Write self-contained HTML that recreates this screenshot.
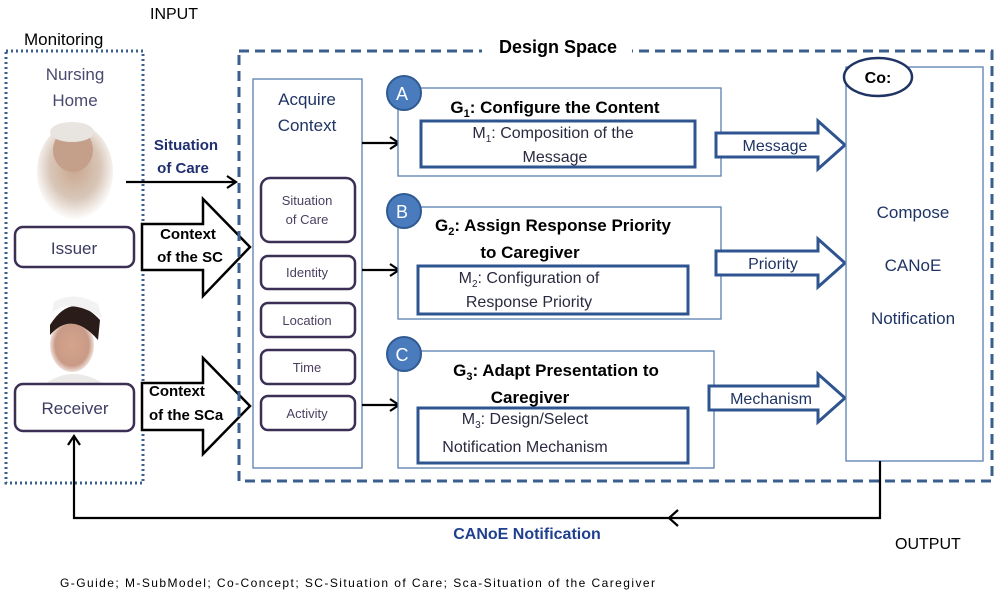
<!DOCTYPE html>
<html><head><meta charset="utf-8"><style>
body{margin:0;background:#fff;}
svg{display:block;font-family:"Liberation Sans",sans-serif;}
</style></head><body>
<svg width="1000" height="599" viewBox="0 0 1000 599" xmlns="http://www.w3.org/2000/svg">
<defs>
<marker id="ah" markerWidth="12" markerHeight="14" refX="10" refY="7" orient="auto" markerUnits="userSpaceOnUse">
<path d="M1,1 L10,7 L1,13" fill="none" stroke="#000" stroke-width="2.2"/></marker>
<radialGradient id="face1" cx="50%" cy="45%" r="55%"><stop offset="0" stop-color="#c9a58c"/><stop offset="0.6" stop-color="#d8c6b8"/><stop offset="1" stop-color="#fff"/></radialGradient>
<radialGradient id="face2" cx="50%" cy="50%" r="55%"><stop offset="0" stop-color="#d7a48c"/><stop offset="0.7" stop-color="#c89a86"/><stop offset="1" stop-color="#fff"/></radialGradient>
</defs>
<text x="150" y="19" font-size="16" fill="#000">INPUT</text>
<text x="24" y="45" font-size="17" fill="#000">Monitoring</text>
<rect x="6" y="51" width="137" height="432" fill="none" stroke="#3a5f8f" stroke-width="3" stroke-dasharray="2,3"/>
<text x="75" y="80" font-size="17" fill="#4a4a70" text-anchor="middle">Nursing</text>
<text x="75" y="106" font-size="17" fill="#4a4a70" text-anchor="middle">Home</text>
<ellipse cx="75" cy="172" rx="38" ry="48" fill="url(#face1)"/>
<ellipse cx="73" cy="150" rx="20" ry="22" fill="#c4a08a"/>
<ellipse cx="72" cy="132" rx="22" ry="10" fill="#e8e4e0"/>
<rect x="38" y="300" width="74" height="90" fill="#fff"/>
<ellipse cx="72" cy="345" rx="22" ry="27" fill="url(#face2)"/>
<path d="M50 325 Q72 290 100 320 L98 340 Q72 310 50 335Z" fill="#2a1c18"/>
<path d="M52 312 Q72 298 102 318 L98 304 Q74 290 54 302Z" fill="#f2f2f2"/>
<path d="M40 388 Q72 360 110 388Z" fill="#eceae8"/>
<rect x="15" y="227" width="119" height="40" rx="8" fill="#fff" stroke="#3b2f55" stroke-width="2.5"/>
<text x="74" y="254" font-size="17" fill="#3b3b60" text-anchor="middle">Issuer</text>
<rect x="15" y="384" width="119" height="47" rx="8" fill="#fff" stroke="#3b2f55" stroke-width="2.5"/>
<text x="75" y="414" font-size="17" fill="#3b3b60" text-anchor="middle">Receiver</text>
<text x="186" y="150" font-size="15" font-weight="bold" fill="#1f2f6f" text-anchor="middle">Situation</text>
<text x="183" y="173" font-size="15" font-weight="bold" fill="#1f2f6f" text-anchor="middle">of Care</text>
<line x1="126" y1="182" x2="236" y2="182" stroke="#000" stroke-width="2.2" marker-end="url(#ah)"/>
<path d="M142 224 L203 224 L203 199 L250 247 L203 296 L203 270 L142 270Z" fill="#fff" stroke="#000" stroke-width="2.5"/>
<text x="188" y="239" font-size="15" font-weight="bold" text-anchor="middle">Context</text>
<text x="190" y="262" font-size="15" font-weight="bold" text-anchor="middle">of the SC</text>
<path d="M142 383 L203 383 L203 358 L250 406 L203 454 L203 430 L142 430Z" fill="#fff" stroke="#000" stroke-width="2.5"/>
<text x="149" y="396" font-size="15" font-weight="bold">Context</text>
<text x="149" y="420" font-size="15" font-weight="bold">of the SCa</text>
<rect x="239" y="51" width="753" height="430" fill="none" stroke="#3a5f8f" stroke-width="3" stroke-dasharray="10,6"/>
<rect x="482" y="34" width="150" height="24" fill="#fff"/>
<text x="558" y="53" font-size="18" font-weight="bold" text-anchor="middle">Design Space</text>
<rect x="253" y="79" width="109" height="389" fill="#fff" stroke="#5b7fb0" stroke-width="1.3"/>
<text x="307" y="105" font-size="17" fill="#1f3464" text-anchor="middle">Acquire</text>
<text x="307" y="131" font-size="17" fill="#1f3464" text-anchor="middle">Context</text>
<g stroke="#3b2f55" stroke-width="2.5" fill="#fff">
<rect x="261" y="178" width="94" height="64" rx="9"/>
<rect x="261" y="256" width="94" height="33" rx="7"/>
<rect x="261" y="303" width="94" height="34" rx="7"/>
<rect x="261" y="350" width="94" height="34" rx="7"/>
<rect x="261" y="396" width="94" height="34" rx="7"/>
</g>
<g font-size="13" fill="#4a3f60" text-anchor="middle">
<text x="307" y="205">Situation</text><text x="307" y="224">of Care</text>
<text x="307" y="277">Identity</text>
<text x="307" y="325">Location</text>
<text x="307" y="372">Time</text>
<text x="307" y="418">Activity</text>
</g>
<g stroke="#000" stroke-width="2.2" marker-end="url(#ah)">
<line x1="362" y1="143" x2="399" y2="143"/>
<line x1="362" y1="270" x2="399" y2="270"/>
<line x1="362" y1="405" x2="399" y2="405"/>
</g>
<g fill="#fff" stroke="#5b7fb0" stroke-width="1.3">
<rect x="398" y="88" width="323" height="88"/>
<rect x="398" y="207" width="323" height="112"/>
<rect x="398" y="351" width="316" height="117"/>
</g>
<g fill="#fff" stroke="#2f5590" stroke-width="3">
<rect x="421" y="121" width="274" height="46"/>
<rect x="418" y="266" width="270" height="48"/>
<rect x="418" y="408" width="270" height="55"/>
</g>
<g fill="#4a7bbd" stroke="#2f5a93" stroke-width="2">
<circle cx="404" cy="93" r="17"/><circle cx="404" cy="211" r="17"/><circle cx="404" cy="354" r="17"/>
</g>
<g fill="#fff" font-size="18" text-anchor="middle">
<text x="402" y="100">A</text><text x="402" y="218">B</text><text x="402" y="361">C</text>
</g>
<g font-size="17" font-weight="bold" text-anchor="middle">
<text x="555" y="113">G<tspan font-size="11" dy="4">1</tspan><tspan dy="-4">: Configure the Content</tspan></text>
<text x="553" y="231">G<tspan font-size="11" dy="4">2</tspan><tspan dy="-4">: Assign Response Priority</tspan></text>
<text x="530" y="258">to Caregiver</text>
<text x="556" y="376">G<tspan font-size="11" dy="4">3</tspan><tspan dy="-4">: Adapt Presentation to</tspan></text>
<text x="530" y="403">Caregiver</text>
</g>
<g font-size="16" fill="#2a2a40" text-anchor="middle">
<text x="553" y="138">M<tspan font-size="10" dy="4">1</tspan><tspan dy="-4">: Composition of the</tspan></text>
<text x="555" y="162">Message</text>
<text x="529" y="283">M<tspan font-size="10" dy="4">2</tspan><tspan dy="-4">: Configuration of</tspan></text>
<text x="529" y="307">Response Priority</text>
<text x="525" y="424">M<tspan font-size="10" dy="4">3</tspan><tspan dy="-4">:  Design/Select</tspan></text>
<text x="525" y="452">Notification Mechanism</text>
</g>
<g fill="#fff" stroke="#2f5590" stroke-width="3">
<path d="M716 133 L818 133 L818 121 L845 145 L818 169 L818 157 L716 157Z"/>
<path d="M716 251 L818 251 L818 239 L845 263 L818 287 L818 275 L716 275Z"/>
<path d="M709 386 L818 386 L818 374 L845 398 L818 422 L818 410 L709 410Z"/>
</g>
<g font-size="16" fill="#1f3464" text-anchor="middle">
<text x="775" y="151">Message</text>
<text x="773" y="269">Priority</text>
<text x="771" y="404">Mechanism</text>
</g>
<rect x="846" y="67" width="137" height="394" fill="#fff" stroke="#5b7fb0" stroke-width="1.3"/>
<ellipse cx="878" cy="77" rx="34" ry="19" fill="#fff" stroke="#1f3464" stroke-width="2.5"/>
<text x="878" y="83" font-size="16" font-weight="bold" text-anchor="middle">Co:</text>
<g font-size="17" fill="#1f3464" text-anchor="middle">
<text x="913" y="218">Compose</text>
<text x="913" y="271">CANoE</text>
<text x="913" y="324">Notification</text>
</g>
<path d="M880 461 L880 518 L74 518 L74 436" fill="none" stroke="#000" stroke-width="2.2" marker-end="url(#ah)"/>
<path d="M678 510 L669 518 L678 526" fill="none" stroke="#000" stroke-width="2.2"/>
<text x="527" y="539" font-size="16" font-weight="bold" fill="#1f3f8f" text-anchor="middle">CANoE Notification</text>
<text x="895" y="549" font-size="16">OUTPUT</text>
<text x="60" y="587" font-size="12" textLength="595" lengthAdjust="spacing">G-Guide; M-SubModel; Co-Concept; SC-Situation of Care; Sca-Situation of the Caregiver</text>
</svg>
</body></html>
